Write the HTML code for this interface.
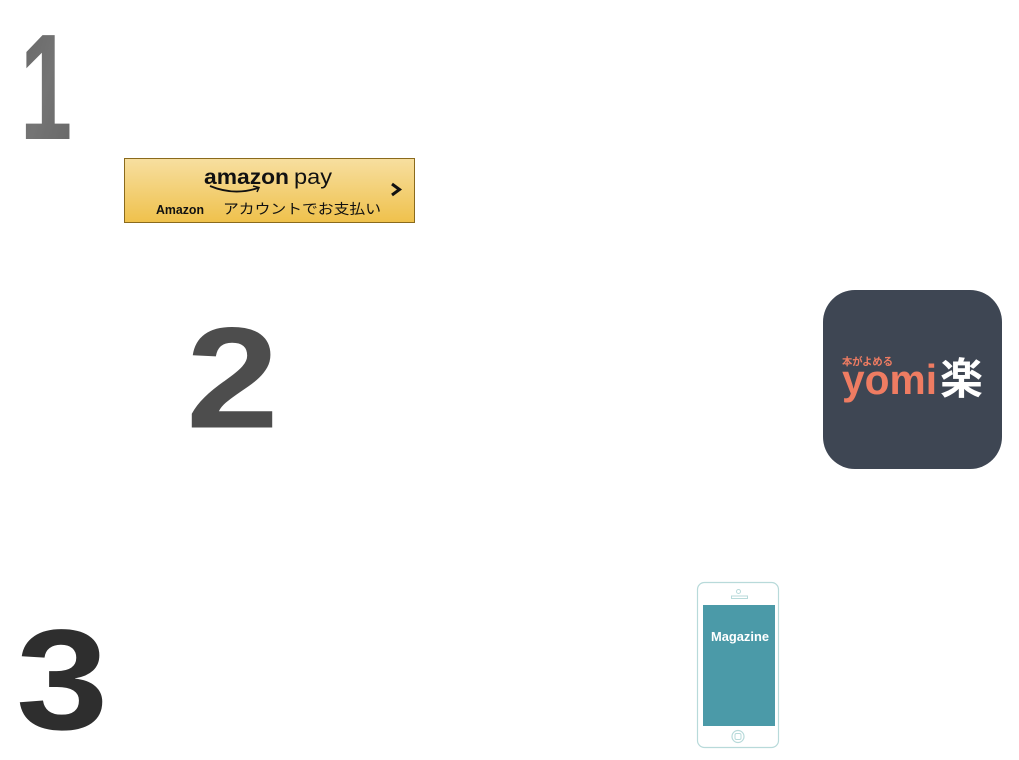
<!DOCTYPE html>
<html><head><meta charset="utf-8"><style>
html,body{margin:0;padding:0;background:#fff;}
body{width:1019px;height:760px;overflow:hidden;position:relative;}
svg{position:absolute;left:0;top:0;}
.ls{font-family:"Liberation Sans",sans-serif;}
.lsb{font-family:"Liberation Sans",sans-serif;font-weight:bold;}
.jp{font-family:"Liberation Sans","Noto Sans CJK JP",sans-serif;}
.jpb{font-family:"Noto Sans CJK JP",sans-serif;font-weight:bold;}
</style></head><body>
<svg width="1019" height="760" viewBox="0 0 1019 760" xmlns="http://www.w3.org/2000/svg">
<defs>
<linearGradient id="amz" x1="0" y1="0" x2="0" y2="1">
<stop offset="0" stop-color="#f7dfa0"/>
<stop offset="1" stop-color="#efc14c"/>
</linearGradient>
<linearGradient id="one" x1="0" y1="0" x2="1" y2="1">
<stop offset="0" stop-color="#666"/>
<stop offset="0.5" stop-color="#747474"/>
<stop offset="1" stop-color="#666"/>
</linearGradient>
</defs>

<!-- digits -->
<g transform="translate(20,139) scale(0.62,1)">
<text x="0" y="0" class="lsb" style="font-size:151px" fill="url(#one)">1</text>
</g>
<g transform="translate(186,427.5) scale(1.16,1)">
<text x="0" y="0" class="lsb" style="font-size:144px" fill="#4d4d4d">2</text>
</g>
<g transform="translate(16,729) scale(1.16,1)">
<text x="0" y="0" class="lsb" style="font-size:143px" fill="#2e2e2e">3</text>
</g>

<!-- amazon pay button -->
<rect x="124.5" y="158.5" width="290" height="64" fill="url(#amz)" stroke="#8a6a1c" stroke-width="1"/>
<text x="204" y="184" class="lsb" style="font-size:21px" fill="#111" textLength="85" lengthAdjust="spacingAndGlyphs">amazon</text>
<text x="294" y="184" class="ls" style="font-size:21px" fill="#111" textLength="38" lengthAdjust="spacingAndGlyphs">pay</text>
<path d="M210 186 Q234 196 258 188" fill="none" stroke="#111" stroke-width="1.8"/>
<path d="M253 186 L259 187.5 L257 192" fill="none" stroke="#111" stroke-width="1.5"/>
<path d="M392 184 L399.5 189.5 L392 195" fill="none" stroke="#111" stroke-width="3"/>
<text x="156" y="214" class="lsb" style="font-size:13px" fill="#111" textLength="48" lengthAdjust="spacingAndGlyphs">Amazon</text>
<text x="223" y="214" class="jp" style="font-size:14px" fill="#111" textLength="158" lengthAdjust="spacingAndGlyphs">アカウントでお支払い</text>

<!-- yomi icon -->
<rect x="823" y="290" width="179" height="179" rx="32" ry="32" fill="#3e4653"/>
<text x="842" y="365" class="jpb" style="font-size:10.5px" fill="#ef7c62" textLength="51" lengthAdjust="spacingAndGlyphs">本がよめる</text>
<text x="842" y="394" class="lsb" style="font-size:42px" fill="#ef7c62" textLength="95" lengthAdjust="spacingAndGlyphs">yomi</text>
<text x="940" y="394" class="jpb" style="font-size:43px" fill="#ffffff">楽</text>

<!-- phone -->
<rect x="697.5" y="582.5" width="81" height="165" rx="7" ry="7" fill="#fff" stroke="#b8dada" stroke-width="1.2"/>
<rect x="703" y="605" width="72" height="121" fill="#4b9aa8"/>
<circle cx="738.5" cy="591.5" r="2" fill="none" stroke="#b8dada" stroke-width="1"/>
<rect x="731.5" y="596" width="16" height="2.5" fill="none" stroke="#b8dada" stroke-width="1"/>
<circle cx="738" cy="736.5" r="6" fill="none" stroke="#b8dada" stroke-width="1.2"/>
<rect x="735" y="733.5" width="6" height="6" rx="1.5" fill="none" stroke="#b8dada" stroke-width="1"/>
<text x="711" y="641" class="lsb" style="font-size:13px" fill="#ffffff" textLength="58" lengthAdjust="spacingAndGlyphs">Magazine</text>
</svg>
</body></html>
